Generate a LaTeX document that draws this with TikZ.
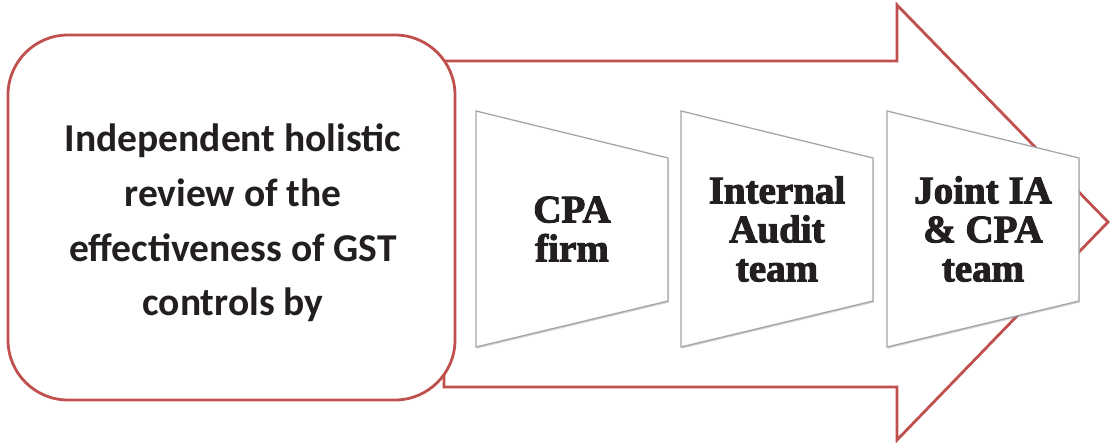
\documentclass[tikz,border=0pt]{standalone}
\usepackage{fontspec}
\setmainfont{Carlito}
\newfontfamily\stepfont[FakeBold=2.6]{Liberation Serif}
\definecolor{arrowred}{HTML}{C0504D}
\definecolor{trapgray}{HTML}{A3A7AD}
\definecolor{ink}{HTML}{231F20}
\usetikzlibrary{shadows}
\tikzset{
  outline/.style={draw=arrowred, line width=2.8pt, fill=white, line join=miter},
  trapbox/.style={draw=trapgray, line width=1.3pt, fill=white,
    drop shadow={shadow xshift=0.8pt, shadow yshift=-1.6pt, opacity=0.35}},
  lefttext/.style={align=center, text=ink,
    font=\fontsize{39.5}{54.8}\selectfont\bfseries},
  steptext/.style={align=center, text=ink,
    font=\fontsize{39}{39}\selectfont\stepfont\bfseries}
}
\begin{document}
\begin{tikzpicture}[x=1pt,y=-1pt]
  \useasboundingbox (0,0) rectangle (1110,443);
  % big block arrow behind everything
  \draw[outline] (444,61) -- (897,61) -- (897,5) -- (1108,222)
    -- (897,440) -- (897,387) -- (444,387) -- cycle;
  % rounded box on the left
  \draw[outline, rounded corners=60pt] (8,35) rectangle (455,400);
  \node[lefttext] (review) at (233,223)
    {Independent holistic\\review of the\\effectiveness of GST\\controls by};
  % three perspective panels
  \foreach \x/\nm in {476/cpa, 681/ia, 887/joint}{
    \path[trapbox] (\x,111) -- (\x+192,158) -- (\x+192,301) -- (\x,347) -- cycle;
    \coordinate (\nm) at (\x+96,229);
  }
  \node[steptext] (cpatext) at (cpa) {CPA\\firm};
  \node[steptext] (iatext) at (ia) {Internal\\Audit\\team};
  \node[steptext] (jointtext) at (joint) {Joint IA\\\& CPA\\team};
\end{tikzpicture}
\end{document}
